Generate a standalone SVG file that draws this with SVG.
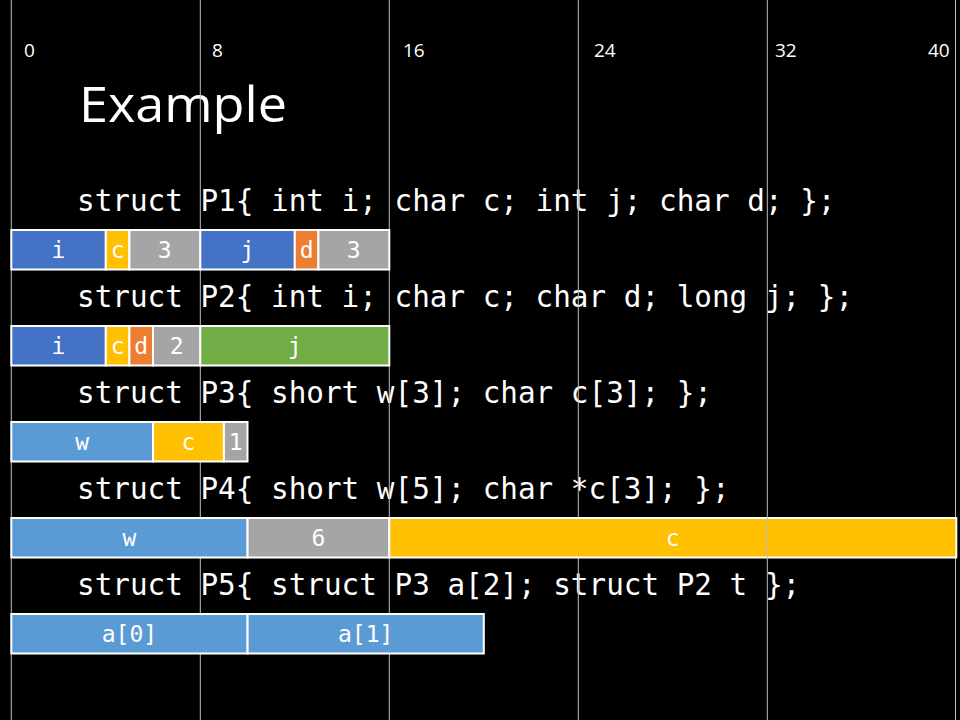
<svg xmlns="http://www.w3.org/2000/svg" width="960" height="720" viewBox="0 0 960 720">
  <style>
    .grid { stroke: #BFBFBF; stroke-width: 1; }
    .axis { font-family: "Open Sans", "Noto Sans", sans-serif; font-size: 19px; fill: #FFFFFF; }
    .title { font-family: "Open Sans", "Noto Sans", sans-serif; font-size: 50px; fill: #FFFFFF; }
    .code { font-family: "DejaVu Sans Mono", "Liberation Mono", monospace; font-size: 29.3px; fill: #FFFFFF; white-space: pre; }
    .cell { stroke: #FFFFFF; stroke-width: 2; }
    .lbl { font-family: "DejaVu Sans Mono", "Liberation Mono", monospace; font-size: 23px; fill: #FFFFFF; text-anchor: middle; }
    .int { fill: #4472C4; }
    .chr { fill: #FFC000; }
    .chr2 { fill: #ED7D31; }
    .pad { fill: #A5A5A5; }
    .lng { fill: #70AD47; }
    .sht { fill: #5B9BD5; }
  </style>

  <rect x="0" y="0" width="960" height="720" fill="#000000"/>

  <!-- byte offset scale -->
  <g id="axis-labels">
    <text class="axis" x="24" y="57">0</text>
    <text class="axis" x="212" y="57">8</text>
    <text class="axis" x="403" y="57">16</text>
    <text class="axis" x="594" y="57">24</text>
    <text class="axis" x="775" y="57">32</text>
    <text class="axis" x="928" y="57">40</text>
  </g>

  <text id="title" class="title" x="79" y="122" textLength="208" lengthAdjust="spacingAndGlyphs">Example</text>

  <!-- struct declarations -->
  <g id="declarations">
    <text class="code" x="77" y="211">struct P1{ int i; char c; int j; char d; };</text>
    <text class="code" x="77" y="307">struct P2{ int i; char c; char d; long j; };</text>
    <text class="code" x="77" y="403">struct P3{ short w[3]; char c[3]; };</text>
    <text class="code" x="77" y="499">struct P4{ short w[5]; char *c[3]; };</text>
    <text class="code" x="77" y="595">struct P5{ struct P3 a[2]; struct P2 t };</text>
  </g>

  <!-- 8-byte grid lines -->
  <g id="grid">
    <line class="grid" x1="11.3" y1="0" x2="11.3" y2="720"/>
    <line class="grid" x1="200.3" y1="0" x2="200.3" y2="720"/>
    <line class="grid" x1="389.3" y1="0" x2="389.3" y2="720"/>
    <line class="grid" x1="578.3" y1="0" x2="578.3" y2="720"/>
    <line class="grid" x1="955.5" y1="0" x2="955.5" y2="720"/>
  </g>

  <!-- memory layouts: one byte = 23.625 px -->
  <g id="layout-P1">
    <rect class="cell int" x="11.3" y="230" width="94.5" height="39.5"/>
    <rect class="cell chr" x="105.8" y="230" width="23.6" height="39.5"/>
    <rect class="cell pad" x="129.4" y="230" width="70.9" height="39.5"/>
    <rect class="cell int" x="200.3" y="230" width="94.5" height="39.5"/>
    <rect class="cell chr2" x="294.8" y="230" width="23.6" height="39.5"/>
    <rect class="cell pad" x="318.4" y="230" width="70.9" height="39.5"/>
    <text class="lbl" x="58.5" y="258">i</text>
    <text class="lbl" x="117.6" y="258">c</text>
    <text class="lbl" x="164.8" y="258">3</text>
    <text class="lbl" x="247.5" y="258">j</text>
    <text class="lbl" x="306.6" y="258">d</text>
    <text class="lbl" x="353.8" y="258">3</text>
  </g>

  <g id="layout-P2">
    <rect class="cell int" x="11.3" y="326" width="94.5" height="39.5"/>
    <rect class="cell chr" x="105.8" y="326" width="23.6" height="39.5"/>
    <rect class="cell chr2" x="129.4" y="326" width="23.6" height="39.5"/>
    <rect class="cell pad" x="153" y="326" width="47.3" height="39.5"/>
    <rect class="cell lng" x="200.3" y="326" width="189" height="39.5"/>
    <text class="lbl" x="58.5" y="354">i</text>
    <text class="lbl" x="117.6" y="354">c</text>
    <text class="lbl" x="141.2" y="354">d</text>
    <text class="lbl" x="176.7" y="354">2</text>
    <text class="lbl" x="294.8" y="354">j</text>
  </g>

  <g id="layout-P3">
    <rect class="cell sht" x="11.3" y="422" width="141.8" height="39.5"/>
    <rect class="cell chr" x="153.1" y="422" width="70.8" height="39.5"/>
    <rect class="cell pad" x="223.9" y="422" width="23.6" height="39.5"/>
    <text class="lbl" x="82.2" y="450">w</text>
    <text class="lbl" x="188.5" y="450">c</text>
    <text class="lbl" x="235.7" y="450">1</text>
  </g>

  <g id="layout-P4">
    <rect class="cell sht" x="11.3" y="518" width="236.3" height="39.5"/>
    <rect class="cell pad" x="247.6" y="518" width="141.7" height="39.5"/>
    <rect class="cell chr" x="389.3" y="518" width="567" height="39.5"/>
    <text class="lbl" x="129.4" y="546">w</text>
    <text class="lbl" x="318.4" y="546">6</text>
    <text class="lbl" x="672.8" y="546">c</text>
  </g>

  <g id="layout-P5">
    <rect class="cell sht" x="11.3" y="614" width="236.3" height="39.5"/>
    <rect class="cell sht" x="247.6" y="614" width="236.2" height="39.5"/>
    <text class="lbl" x="129.4" y="642">a[0]</text>
    <text class="lbl" x="365.7" y="642">a[1]</text>
  </g>

  <!-- the 32-byte line stays visible across the layouts -->
  <g id="grid-front">
    <line class="grid" x1="767.3" y1="0" x2="767.3" y2="720"/>
  </g>

  <g id="connectors"/>
</svg>
